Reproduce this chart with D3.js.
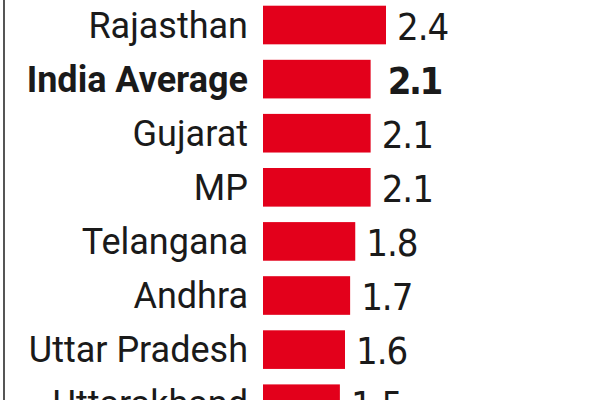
<!DOCTYPE html>
<html>
<head>
<meta charset="utf-8">
<script src="https://cdn.jsdelivr.net/npm/d3@7"></script>
<style>
  html, body { margin: 0; padding: 0; background: #fff; }
  svg { display: block; }
  .label { font-family: Roboto, sans-serif; font-size: 36px; fill: #1a1a1a; }
  .label.bold { font-weight: 700; }
  .value { font-family: "DejaVu Sans Condensed", "DejaVu Sans", sans-serif; font-size: 38px; fill: #1a1a1a; letter-spacing: -1px; }
  .value.bold { font-weight: 700; letter-spacing: -2.5px; }
</style>
</head>
<body>
<script>
// data
var states = ["Rajasthan", "India Average", "Gujarat", "MP", "Telangana", "Andhra", "Uttar Pradesh", "Uttarakhand"];
var rates = [2.4, 2.1, 2.1, 2.1, 1.8, 1.7, 1.6, 1.5];
var valueLabels = ["2.4", "2.1", "2.1", "2.1", "1.8", "1.7", "1.6", "1.5"];
var highlight = ["India Average"];

var width = 600, height = 400;
var step = 54.1, pad = 0.286, top0 = 5.7;

var data = states.map(function(s, i) {
	return { name: s, value: rates[i], label: valueLabels[i], bold: highlight.indexOf(s) > -1 };
});

var svg = d3.select("body").append("svg")
	.attr("width", width)
	.attr("height", height);

var x = d3.scaleLinear()
	.domain([0, 2.4])
	.range([263, 386]);

var y = d3.scaleBand()
	.domain(states)
	.range([top0, top0 + step * (states.length - pad)])
	.paddingInner(pad)
	.paddingOuter(0);

// frame rule on the left
svg.append("line")
	.attr("x1", 4).attr("x2", 4)
	.attr("y1", 0).attr("y2", height)
	.attr("stroke", "#2b2b2b")
	.attr("stroke-width", 1.6);

var row = svg.selectAll(".row")
	.data(data)
	.enter().append("g")
	.attr("class", "row");

row.append("rect")
	.attr("x", x(0))
	.attr("y", function(d) { return y(d.name); })
	.attr("width", function(d) { return x(d.value) - x(0); })
	.attr("height", y.bandwidth())
	.attr("fill", "#e3001b");

row.append("text")
	.attr("class", function(d) { return "label" + (d.bold ? " bold" : ""); })
	.attr("x", 248)
	.attr("y", function(d) { return y(d.name) + y.bandwidth() / 2 + 12.5; })
	.attr("text-anchor", "end")
	.text(function(d) { return d.name; });

row.append("text")
	.attr("class", function(d) { return "value" + (d.bold ? " bold" : ""); })
	.attr("x", function(d) { return x(d.value) + (d.bold ? 17 : 11); })
	.attr("y", function(d) { return y(d.name) + y.bandwidth() / 2 + 14.5; })
	.text(function(d) { return d.label; });
</script>
</body>
</html>
